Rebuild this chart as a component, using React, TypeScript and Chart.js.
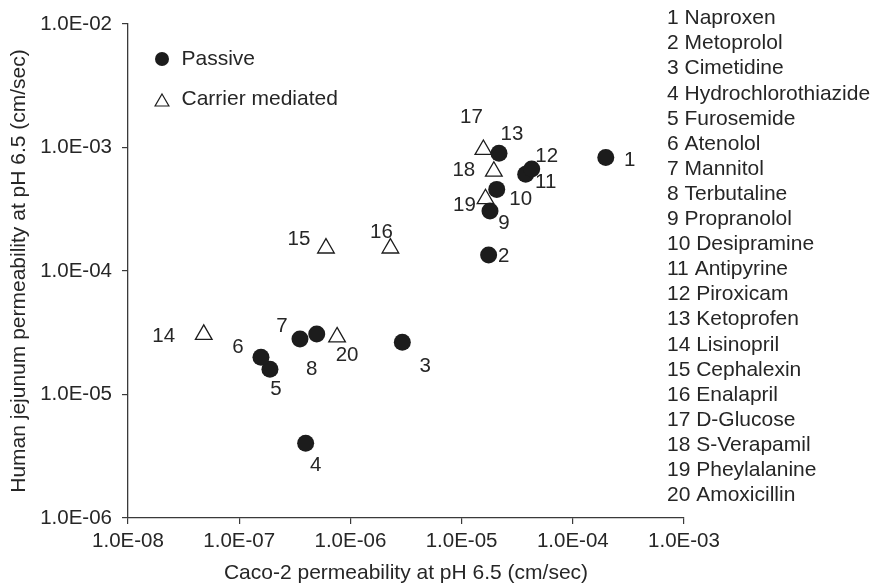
import React, { useEffect, useRef } from 'react';
import { Chart, registerables } from 'chart.js';

Chart.register(...registerables);

// ---------- data ----------
const compoundNames = [
  'Naproxen', 'Metoprolol', 'Cimetidine', 'Hydrochlorothiazide', 'Furosemide',
  'Atenolol', 'Mannitol', 'Terbutaline', 'Propranolol', 'Desipramine',
  'Antipyrine', 'Piroxicam', 'Ketoprofen', 'Lisinopril', 'Cephalexin',
  'Enalapril', 'D-Glucose', 'S-Verapamil', 'Pheylalanine', 'Amoxicillin',
];

const passiveIds = [1, 2, 3, 4, 5, 6, 7, 8, 9, 10, 11, 12, 13];
const passiveCaco2 = [1.98e-4, 1.75e-5, 2.93e-6, 3.96e-7, 1.89e-7, 1.57e-7, 3.52e-7, 4.98e-7, 1.8e-5, 2.07e-5, 3.77e-5, 4.27e-5, 2.17e-5];
const passiveHuman = [8.3e-4, 1.35e-4, 2.65e-5, 4.03e-6, 1.6e-5, 2.0e-5, 2.81e-5, 3.09e-5, 3.06e-4, 4.58e-4, 6.07e-4, 6.7e-4, 8.97e-4];

const carrierIds = [14, 15, 16, 17, 18, 19, 20];
const carrierCaco2 = [4.8e-8, 6.03e-7, 2.29e-6, 1.57e-5, 1.95e-5, 1.64e-5, 7.59e-7];
const carrierHuman = [3.06e-5, 1.53e-4, 1.53e-4, 9.62e-4, 6.41e-4, 3.84e-4, 2.92e-5];

const xTickValues = [1e-8, 1e-7, 1e-6, 1e-5, 1e-4, 1e-3];
const xTickLabels = ['1.0E-08', '1.0E-07', '1.0E-06', '1.0E-05', '1.0E-04', '1.0E-03'];
const yTickValues = [1e-6, 1e-5, 1e-4, 1e-3, 1e-2];
const yTickLabels = ['1.0E-06', '1.0E-05', '1.0E-04', '1.0E-03', '1.0E-02'];

const seriesLabels = ['Passive', 'Carrier mediated'];
const xTitle = 'Caco-2 permeability at pH 6.5 (cm/sec)';
const yTitle = 'Human jejunum permeability at pH 6.5 (cm/sec)';

// ---------- styling (label placement offsets in px, relative to each point) ----------
const labelOffsets: Record<number, [number, number]> = {
  1: [24, 3], 2: [15, 1], 3: [23, 24], 4: [10, 22], 5: [6, 20],
  6: [-23, -10], 7: [-18, -13], 8: [-5, 35], 9: [14, 12], 10: [24, 10],
  11: [20, 8], 12: [15, -13], 13: [13, -19], 14: [-40, 2], 15: [-27, -9],
  16: [-9, -16], 17: [-12, -32], 18: [-30, -1], 19: [-21, 7], 20: [10, 18],
};

const FONT = '"Liberation Sans", Arial, Helvetica, sans-serif';
const TEXT = '#262626';
const INK = '#1c1c1c';
const AXIS = '#3a3a3a';

const pointLabelPlugin = {
  id: 'pointLabels',
  afterDatasetsDraw(chart: any) {
    const ctx = chart.ctx;
    ctx.save();
    ctx.font = `20.5px ${FONT}`;
    ctx.fillStyle = TEXT;
    ctx.textAlign = 'center';
    ctx.textBaseline = 'middle';
    chart.data.datasets.forEach((ds: any, di: number) => {
      const meta = chart.getDatasetMeta(di);
      meta.data.forEach((el: any, i: number) => {
        const id = ds.ids[i];
        const off = labelOffsets[id] || [12, 0];
        ctx.fillText(String(id), el.x + off[0], el.y + off[1]);
      });
    });
    ctx.restore();
  },
};

const legendPlugin = {
  id: 'customLegends',
  afterDraw(chart: any) {
    const ctx = chart.ctx;
    const { left, right } = chart.chartArea;
    ctx.save();
    // series legend
    const lx = left + 34;
    ctx.fillStyle = INK;
    ctx.beginPath();
    ctx.arc(lx, 59, 7, 0, Math.PI * 2);
    ctx.fill();
    const r = 8;
    const ty = 102;
    ctx.beginPath();
    ctx.moveTo(lx, ty - r);
    ctx.lineTo(lx + r * Math.sin((2 * Math.PI) / 3), ty - r * Math.cos((2 * Math.PI) / 3));
    ctx.lineTo(lx + r * Math.sin((4 * Math.PI) / 3), ty - r * Math.cos((4 * Math.PI) / 3));
    ctx.closePath();
    ctx.fillStyle = '#ffffff';
    ctx.fill();
    ctx.strokeStyle = INK;
    ctx.lineWidth = 1.2;
    ctx.stroke();

    ctx.font = `21px ${FONT}`;
    ctx.fillStyle = TEXT;
    ctx.textAlign = 'left';
    ctx.textBaseline = 'middle';
    ctx.fillText(seriesLabels[0], lx + 19.5, 59);
    ctx.fillText(seriesLabels[1], lx + 19.5, 99);

    // compound list
    const cx = right - 17;
    compoundNames.forEach((name, i) => {
      ctx.fillText(`${i + 1} ${name}`, cx, 18.5 + i * 25.1);
    });
    ctx.restore();
  },
};

export default function App() {
  const canvasRef = useRef<HTMLCanvasElement | null>(null);

  useEffect(() => {
    document.body.style.margin = '0';
    const canvas = canvasRef.current;
    if (!canvas) return;

    const chart = new Chart(canvas, {
      type: 'scatter',
      data: {
        datasets: [
          {
            label: seriesLabels[0],
            ids: passiveIds,
            data: passiveCaco2.map((x, i) => ({ x, y: passiveHuman[i] })),
            pointStyle: 'circle',
            pointRadius: 8.5,
            pointHoverRadius: 8.5,
            backgroundColor: INK,
            borderColor: INK,
            borderWidth: 0,
          } as any,
          {
            label: seriesLabels[1],
            ids: carrierIds,
            data: carrierCaco2.map((x, i) => ({ x, y: carrierHuman[i] })),
            pointStyle: 'triangle',
            pointRadius: 9.6,
            pointHoverRadius: 9.6,
            backgroundColor: '#ffffff',
            borderColor: INK,
            borderWidth: 1.3,
          } as any,
        ],
      },
      options: {
        animation: false,
        responsive: false,
        devicePixelRatio: 1,
        layout: { padding: { left: 0, top: 24, right: 190, bottom: 0 } },
        plugins: {
          legend: { display: false },
          tooltip: { enabled: false },
          title: { display: false },
        },
        scales: {
          x: {
            type: 'logarithmic',
            position: 'bottom',
            min: 1e-8,
            max: 1e-3,
            afterBuildTicks: (scale: any) => {
              scale.ticks = xTickValues.map((v) => ({ value: v }));
            },
            afterFit: (scale: any) => {
              scale.height = 66;
            },
            ticks: {
              autoSkip: false,
              maxRotation: 0,
              padding: 5,
              color: TEXT,
              font: { family: FONT, size: 20.5 },
              callback: (v: any) => {
                const idx = xTickValues.findIndex((t) => Math.abs(Math.log10(t) - Math.log10(Number(v))) < 1e-6);
                return idx >= 0 ? xTickLabels[idx] : '';
              },
            },
            grid: {
              display: true,
              drawOnChartArea: false,
              drawTicks: true,
              tickLength: 6,
              color: AXIS,
              lineWidth: 1.2,
            },
            border: { display: true, color: AXIS, width: 1.3 },
            title: {
              display: true,
              text: xTitle,
              color: TEXT,
              font: { family: FONT, size: 21, lineHeight: 1 },
              padding: { top: 0, bottom: 0.5 },
            },
          },
          y: {
            type: 'logarithmic',
            position: 'left',
            min: 1e-6,
            max: 1e-2,
            afterBuildTicks: (scale: any) => {
              scale.ticks = yTickValues.map((v) => ({ value: v }));
            },
            afterFit: (scale: any) => {
              scale.width = 128;
            },
            ticks: {
              autoSkip: false,
              padding: 10,
              color: TEXT,
              font: { family: FONT, size: 20.5 },
              callback: (v: any) => {
                const idx = yTickValues.findIndex((t) => Math.abs(Math.log10(t) - Math.log10(Number(v))) < 1e-6);
                return idx >= 0 ? yTickLabels[idx] : '';
              },
            },
            grid: {
              display: true,
              drawOnChartArea: false,
              drawTicks: true,
              tickLength: 6,
              color: AXIS,
              lineWidth: 1.2,
            },
            border: { display: true, color: AXIS, width: 1.3 },
            title: {
              display: true,
              text: yTitle,
              color: TEXT,
              font: { family: FONT, size: 21 },
              padding: { top: 7, bottom: 0 },
            },
          },
        },
      } as any,
      plugins: [pointLabelPlugin, legendPlugin],
    });

    return () => {
      chart.destroy();
    };
  }, []);

  return (
    <div style={{ width: 874, height: 584, background: '#ffffff' }}>
      <canvas ref={canvasRef} width={874} height={584} style={{ display: 'block' }} />
    </div>
  );
}
